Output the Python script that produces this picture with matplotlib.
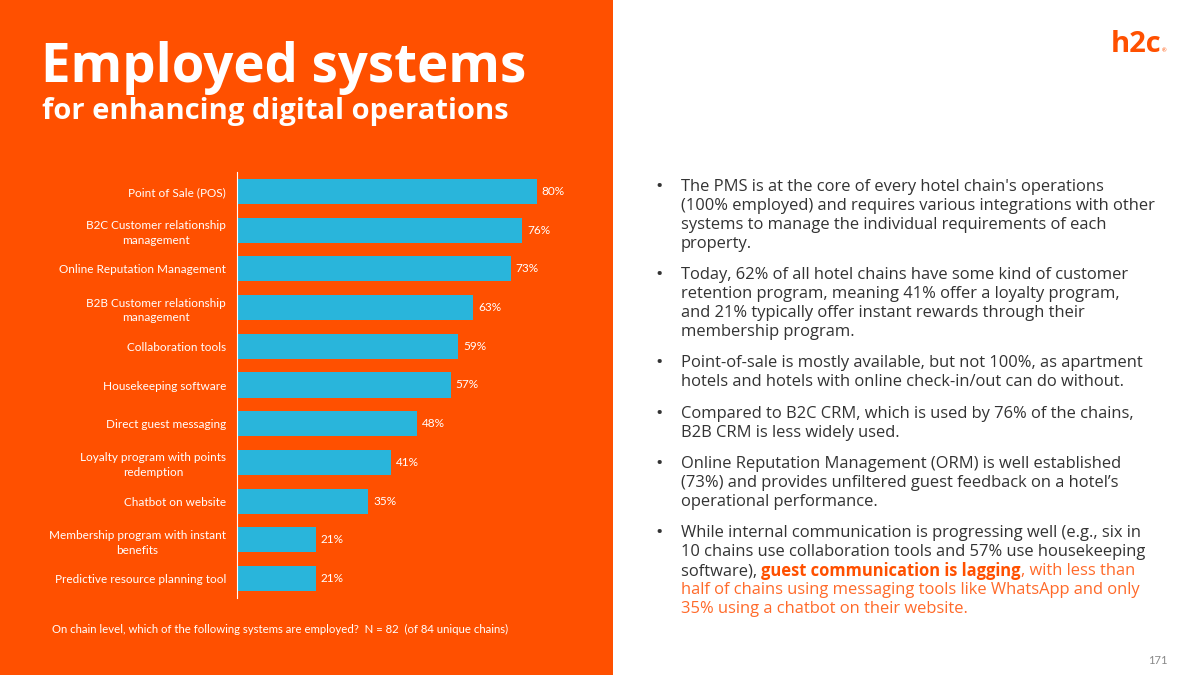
import matplotlib.pyplot as plt
from matplotlib.patches import Rectangle

plt.rcParams['font.family'] = ['Lato', 'DejaVu Sans']

# data
systems = ['Point of Sale (POS)', 'B2C Customer relationship\nmanagement',
           'Online Reputation Management', 'B2B Customer relationship\nmanagement',
           'Collaboration tools', 'Housekeeping software', 'Direct guest messaging',
           'Loyalty program with points\nredemption', 'Chatbot on website',
           'Membership program with instant\nbenefits', 'Predictive resource planning tool']
share = [80, 76, 73, 63, 59, 57, 48, 41, 35, 21, 21]

bullets = [
    ["The PMS is at the core of every hotel chain's operations",
     "(100% employed) and requires various integrations with other",
     "systems to manage the individual requirements of each",
     "property."],
    ["Today, 62% of all hotel chains have some kind of customer",
     "retention program, meaning 41% offer a loyalty program,",
     "and 21% typically offer instant rewards through their",
     "membership program."],
    ["Point-of-sale is mostly available, but not 100%, as apartment",
     "hotels and hotels with online check-in/out can do without."],
    ["Compared to B2C CRM, which is used by 76% of the chains,",
     "B2B CRM is less widely used."],
    ["Online Reputation Management (ORM) is well established",
     "(73%) and provides unfiltered guest feedback on a hotel\u2019s",
     "operational performance."],
    ["While internal communication is progressing well (e.g., six in",
     "10 chains use collaboration tools and 57% use housekeeping"],
]

ORANGE = '#FF5000'
BLUE = '#29B5DB'
DARK = '#333333'
W, H = 1200, 675

fig = plt.figure(figsize=(12, 6.75), dpi=100)
fig.patch.set_facecolor('white')
fig.add_artist(Rectangle((0, 0), 613 / W, 1, transform=fig.transFigure,
                         facecolor=ORANGE, edgecolor='none', zorder=0))

def fx(px):
    return px / W

def fy(py):
    return 1 - py / H

# title
fig.text(fx(41), fy(68), 'Employed systems', color='white', fontsize=38,
         fontweight='bold', family=['Open Sans', 'DejaVu Sans'], va='center', ha='left')
fig.text(fx(42), fy(111), 'for enhancing digital operations', color='white',
         fontsize=21, fontweight='bold', family=['Open Sans', 'DejaVu Sans'],
         va='center', ha='left')

# bar chart
ax = fig.add_axes([fx(237), fy(598), 375 / W, 426 / H])
ax.set_facecolor('none')
y = list(range(len(systems)))
ax.barh(y, share, height=0.65, color=BLUE)
ax.set_xlim(0, 100)
ax.set_ylim(len(systems) - 0.5, -0.5)
ax.set_yticks(y)
ax.set_yticklabels(systems, color='white', fontsize=8.5, multialignment='center',
                   linespacing=1.4)
ax.tick_params(axis='y', length=0, pad=8)
ax.set_xticks([])
for s in ['top', 'right', 'bottom']:
    ax.spines[s].set_visible(False)
ax.spines['left'].set_color('white')
ax.spines['left'].set_linewidth(0.8)
for yi, v in zip(y, share):
    ax.text(v + 1.3, yi, f'{v}%', color='white', fontsize=8.5, va='center', ha='left')

fig.text(fx(52), fy(629),
         'On chain level, which of the following systems are employed?  N = 82  (of 84 unique chains)',
         color='white', fontsize=8.2, va='center', ha='left')

# right side text
line_y = [[187, 206, 225, 244], [275, 294, 313, 332], [363, 382], [414, 433],
          [464, 483, 502], [533, 552]]
fs = 11.9
rfont = ['Open Sans', 'DejaVu Sans']
for lines, ys in zip(bullets, line_y):
    fig.text(fx(655), fy(ys[0]), '\u2022', color=DARK, fontsize=14, va='center',
             family=rfont)
    for txt, yy in zip(lines, ys):
        fig.text(fx(681), fy(yy), txt, color=DARK, fontsize=fs, va='center',
                 family=rfont)

t1 = fig.text(fx(681), fy(571), 'software), ', color=DARK, fontsize=fs, va='center',
              family=rfont)
t2 = fig.text(0, 0, 'guest communication is lagging', color=ORANGE, fontsize=fs,
              fontweight='bold', va='center', family=rfont)
t3 = fig.text(0, 0, ', with less than', color='#FF6A2A', fontsize=fs, va='center',
              family=rfont)
fig.text(fx(681), fy(590), 'half of chains using messaging tools like WhatsApp and only',
         color='#FF6A2A', fontsize=fs, va='center', family=rfont)
fig.text(fx(681), fy(609), '35% using a chatbot on their website.',
         color='#FF6A2A', fontsize=fs, va='center', family=rfont)

fig.canvas.draw()
r = fig.canvas.get_renderer()
bb1 = t1.get_window_extent(r)
t2.set_position((bb1.x1 / W, fy(571)))
fig.canvas.draw()
bb2 = t2.get_window_extent(r)
t3.set_position((bb2.x1 / W, fy(571)))

# logo and page number
fig.text(fx(1161), fy(44), 'h2c', color=ORANGE, fontsize=21, fontweight='bold',
         family=['Open Sans', 'DejaVu Sans'], va='center', ha='right')
fig.text(fx(1162), fy(51), '\u00ae', color=ORANGE, fontsize=4, va='center', ha='left')
fig.text(fx(1168), fy(661), '171', color='#888888', fontsize=8, va='center', ha='right')

fig.savefig('out.png', dpi=100, facecolor=fig.get_facecolor())
